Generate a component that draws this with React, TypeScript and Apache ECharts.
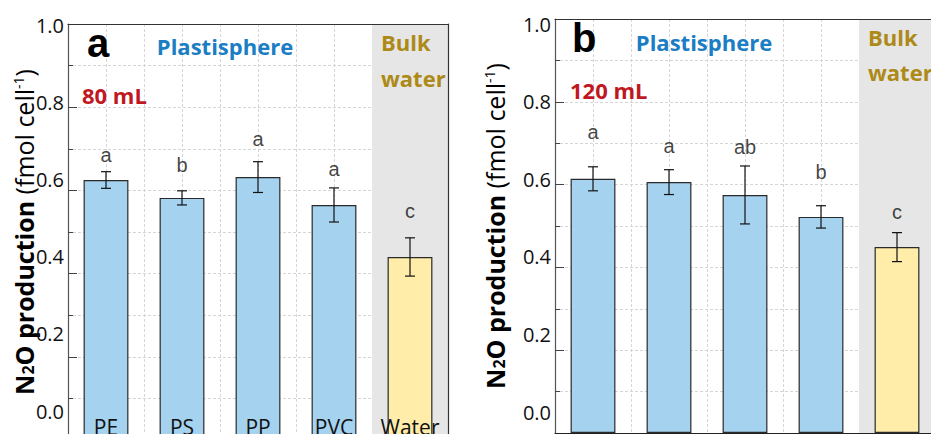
import React, { useEffect, useRef } from "react";
import * as echarts from "echarts";

// ---------- data ----------
const categoriesA = ["PE", "PS", "PP", "PVC", "Water"];
const meansA = [0.625, 0.582, 0.632, 0.565, 0.44];
const errA = [0.02, 0.017, 0.037, 0.041, 0.046];
const lettersA = ["a", "b", "a", "a", "c"];
const letterYA = [0.685, 0.662, 0.724, 0.651, 0.55];

const categoriesB = ["PE", "PS", "PP", "PVC", "Water"];
const meansB = [0.614, 0.606, 0.575, 0.522, 0.449];
const errB = [0.029, 0.03, 0.07, 0.027, 0.035];
const lettersB = ["a", "a", "ab", "b", "c"];
const letterYB = [0.727, 0.693, 0.69, 0.63, 0.534];

const tickLabels = [0, 0.2, 0.4, 0.6, 0.8, 1.0];

const BLUE = "#a5d2ef";
const YELLOW = "#ffeda9";
const GRID_LINE = { color: "#d6d6d6", type: [3, 2] as any, width: 1 };
const FONT = '"Open Sans", "Liberation Sans", sans-serif';
const ARIAL = '"Liberation Sans", Arial, sans-serif';

function panel(
  g: number,
  cats: string[],
  means: number[],
  errs: number[],
  letters: string[],
  letterY: number[],
  labelMin: number,
  labelMax: number,
  nameGap: number,
  showCatLine: boolean,
  catMargin: number
) {
  const xAxis = [
    {
      type: "category",
      gridIndex: g,
      position: "bottom",
      data: cats,
      boundaryGap: true,
      axisLine: { show: showCatLine, lineStyle: { color: "#222", width: 1.2 } },
      axisTick: { show: false },
      splitLine: { show: false },
      axisLabel: { interval: 0, margin: catMargin, fontSize: 21, color: "#111", fontFamily: FONT },
      z: 10,
    },
    {
      // vertical grid lines (every half category)
      type: "value",
      gridIndex: g,
      position: "top",
      min: 0,
      max: 5,
      interval: 0.5,
      axisLine: { show: false },
      axisTick: { show: false },
      axisLabel: { show: false },
      splitLine: { show: true, lineStyle: GRID_LINE },
      z: 0,
    },
    {
      // top frame
      type: "value",
      gridIndex: g,
      position: "top",
      min: 0,
      max: 5,
      axisLine: { show: true, onZero: false, lineStyle: { color: "#333", width: 1.2 } },
      axisTick: { show: false },
      axisLabel: { show: false },
      splitLine: { show: false },
      z: 10,
    },
  ];
  const yAxis = [
    {
      type: "value",
      gridIndex: g,
      position: "left",
      min: 0,
      max: 1,
      interval: 0.2,
      axisLine: { show: true, onZero: false, lineStyle: { color: "#555", width: 1.2 } },
      axisTick: { show: true, inside: true, length: 9, lineStyle: { color: "#444" } },
      minorTick: { show: true, splitNumber: 2, length: 5, lineStyle: { color: "#444" } },
      axisLabel: { show: false },
      splitLine: { show: true, lineStyle: GRID_LINE },
      minorSplitLine: { show: true, lineStyle: GRID_LINE },
      name: "{b|N}{s|2}{b|O production}{n| (fmol cell}{sup|-1}{n|)}",
      nameLocation: "middle",
      nameGap: nameGap,
      nameTextStyle: {
        rich: {
          b: { fontFamily: FONT, fontSize: 25, fontWeight: "bold", color: "#000" },
          s: { fontFamily: FONT, fontSize: 16, fontWeight: "bold", color: "#000", verticalAlign: "bottom" },
          n: { fontFamily: FONT, fontSize: 25, color: "#000" },
          sup: { fontFamily: FONT, fontSize: 14, color: "#000", verticalAlign: "top" },
        },
      },
      z: 0,
    },
    {
      type: "value",
      gridIndex: g,
      position: "left",
      min: labelMin,
      max: labelMax,
      axisLine: { show: false },
      axisTick: { show: false },
      splitLine: { show: false },
      axisLabel: {
        show: true,
        customValues: tickLabels,
        margin: 4,
        fontSize: 20,
        color: "#111",
        fontFamily: FONT,
        formatter: (v: number) => v.toFixed(1),
      },
      z: 10,
    },
    {
      type: "value",
      gridIndex: g,
      position: "right",
      min: 0,
      max: 1,
      axisLine: { show: true, onZero: false, lineStyle: { color: "#333", width: 1.2 } },
      axisTick: { show: false },
      axisLabel: { show: false },
      splitLine: { show: false },
      z: 10,
    },
  ];
  const xi = g * 3;
  const yi = g * 3;
  const series = [
    {
      type: "line",
      xAxisIndex: xi + 1,
      yAxisIndex: yi,
      data: [],
      z: 1,
      silent: true,
      markArea: {
        silent: true,
        itemStyle: { color: "#e6e6e6" },
        data: [[{ xAxis: 4 }, { xAxis: 5 }]],
      },
    },
    {
      type: "bar",
      xAxisIndex: xi,
      yAxisIndex: yi,
      barWidth: "59%",
      z: 3,
      data: means.map((m, i) => ({
        value: m,
        itemStyle: { color: cats[i] === "Water" ? YELLOW : BLUE },
      })),
      itemStyle: { borderColor: "#2a2a2a", borderWidth: 1.2 },
    },
    {
      type: "custom",
      xAxisIndex: xi,
      yAxisIndex: yi,
      z: 4,
      encode: { x: 0, y: [1, 2] },
      data: means.map((m, i) => [i, m - errs[i], m + errs[i]]),
      renderItem: (params: any, api: any) => {
        const x = api.value(0);
        const top = api.coord([x, api.value(2)]);
        const bot = api.coord([x, api.value(1)]);
        const w = 5;
        const st = { stroke: "#111", lineWidth: 1.2 };
        return {
          type: "group",
          children: [
            { type: "line", shape: { x1: top[0], y1: top[1], x2: bot[0], y2: bot[1] }, style: st },
            { type: "line", shape: { x1: top[0] - w, y1: top[1], x2: top[0] + w, y2: top[1] }, style: st },
            { type: "line", shape: { x1: bot[0] - w, y1: bot[1], x2: bot[0] + w, y2: bot[1] }, style: st },
          ],
        };
      },
    },
    {
      type: "scatter",
      xAxisIndex: xi,
      yAxisIndex: yi,
      z: 5,
      symbolSize: 0,
      data: letterY.map((v, i) => [i, v]),
      label: {
        show: true,
        position: "inside",
        formatter: (p: any) => letters[p.dataIndex],
        fontFamily: ARIAL,
        fontSize: 20,
        color: "#111",
      },
    },
  ];
  return { xAxis, yAxis, series };
}

export default function App() {
  const ref = useRef<HTMLDivElement>(null);
  useEffect(() => {
    if (!ref.current) return;
    const chart = echarts.init(ref.current, undefined, { renderer: "svg" });
    const pa = panel(0, categoriesA, meansA, errA, lettersA, letterYA, -0.0751, 1.0026, 32, false, -24);
    const pb = panel(1, categoriesB, meansB, errB, lettersB, letterYB, -0.0541, 1.0129, 48, true, 8);
    const txt = (x: number, y: number, text: string, fill: string, font: string, align = "left") => ({
      type: "text",
      x,
      y,
      z: 20,
      style: { text, fill, font, align, verticalAlign: "middle" },
    });
    const bigFont = `bold 40px ${ARIAL}`;
    const lblFont = `bold 22px ${FONT}`;
    const PL = "#1b7dc3";
    const BW = "#ad8a17";
    const RED = "#c0181f";
    chart.setOption({
      animation: false,
      backgroundColor: "#fff",
      grid: [
        { left: 68, top: 24, width: 380, height: 416, containLabel: false, outerBoundsMode: "none" },
        { left: 555, top: 19, width: 380, height: 414, containLabel: false, outerBoundsMode: "none" },
      ],
      xAxis: [...pa.xAxis, ...pb.xAxis],
      yAxis: [...pa.yAxis, ...pb.yAxis],
      series: [...pa.series, ...pb.series],
      graphic: [
        txt(87, 43, "a", "#000", bigFont),
        txt(225, 46, "Plastisphere", PL, lblFont, "center"),
        txt(82, 95, "80 mL", RED, lblFont),
        txt(381, 42, "Bulk", BW, lblFont),
        txt(381, 78, "water", BW, lblFont),
        txt(572, 38, "b", "#000", bigFont),
        txt(704, 42, "Plastisphere", PL, lblFont, "center"),
        txt(570, 90, "120 mL", RED, lblFont),
        txt(868, 37, "Bulk", BW, lblFont),
        txt(868, 72, "water", BW, lblFont),
      ],
    });
    return () => chart.dispose();
  }, []);
  return (
    <div style={{ position: "fixed", left: 0, top: 0, width: 931, height: 434, overflow: "hidden", background: "#fff" }}>
      <div ref={ref} style={{ width: 945, height: 452 }} />
    </div>
  );
}
